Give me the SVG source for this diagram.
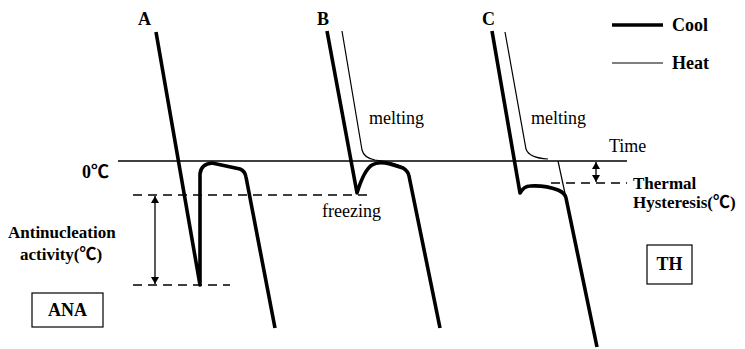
<svg xmlns="http://www.w3.org/2000/svg" width="745" height="349" viewBox="0 0 745 349">
<style>
.cool{fill:none;stroke:#000;stroke-width:3.6;stroke-linejoin:round;stroke-linecap:butt}
.heat{fill:none;stroke:#000;stroke-width:1.2}
.axis{fill:none;stroke:#000;stroke-width:1.3}
.dash{fill:none;stroke:#000;stroke-width:1.3;stroke-dasharray:9 6}
.arr{fill:none;stroke:#000;stroke-width:1.3}
.box{fill:#fff;stroke:#000;stroke-width:1.2}
text{font-family:'Liberation Serif','Times New Roman','DejaVu Serif',serif;font-size:18px;fill:#000}
.b{font-weight:bold}
.m{font-size:17px}
.deg{font-family:'Noto Sans CJK SC',sans-serif;font-weight:bold}
</style>
<defs>
<marker id="ah" viewBox="0 0 10 10" refX="10" refY="5" markerWidth="7" markerHeight="8" markerUnits="userSpaceOnUse" orient="auto-start-reverse" preserveAspectRatio="none">
<path d="M0,0 L10,5 L0,10 Z" fill="#000"/>
</marker>
</defs>
<g id="axes">
<path class="axis" d="M118,161 L627,161"/>
<path class="dash" d="M133,195 L372,195"/>
<path class="dash" d="M133,285 L230,285"/>
<path class="dash" d="M551,183 L627,183"/>
</g>
<g id="curve-A">
<text class="b" x="138" y="25">A</text>
<path class="cool" d="M156,32 L200,285 L200,174 Q201,164 212,163 L240,169 Q245,171 246,177 L275,328"/>
</g>
<g id="curve-B">
<text class="b" x="317" y="25">B</text>
<path class="heat" d="M342,31 L362,150 Q364,158 375,160 Q395,162 405,168"/>
<path class="cool" d="M327,31 L357,193 Q364,170 372,165 Q378,161 390,164 L403,168 Q408,171 409,176 L440,328"/>
<text x="369" y="124">melting</text>
<text x="322" y="217">freezing</text>
</g>
<g id="curve-C">
<text class="b" x="482" y="25">C</text>
<path class="heat" d="M505,32 L526,149 Q529,158 548,159"/>
<path class="heat" d="M558,161 L566,198"/>
<path class="cool" d="M492,31 L520,193 Q524,186 530,186 Q545,185 558,190 Q565,193 566,198 L597,347"/>
<text x="531" y="124">melting</text>
<text x="609" y="152">Time</text>
</g>
<g id="zero-label">
<text class="b" x="82" y="178">0<tspan class="deg">℃</tspan></text>
</g>
<g id="ana-label">
<text class="b m" x="8" y="238">Antinucleation</text>
<text class="b m" x="20" y="260">activity(<tspan class="deg">℃</tspan>)</text>
</g>
<g id="th-label">
<text class="b m" x="633" y="189">Thermal</text>
<text class="b m" x="633" y="208">Hysteresis(<tspan class="deg">℃</tspan>)</text>
</g>
<g id="ANA">
<rect class="box" x="32" y="293" width="71" height="34"/>
<text class="b" x="67.5" y="316" text-anchor="middle">ANA</text>
</g>
<g id="TH">
<rect class="box" x="647" y="245" width="45" height="39"/>
<text class="b" x="669.5" y="270" text-anchor="middle">TH</text>
</g>
<g id="legend">
<path class="cool" d="M612,25 L663,25"/>
<text class="b" x="672" y="31">Cool</text>
<path class="heat" d="M612,63 L663,63"/>
<text class="b" x="672" y="69">Heat</text>
</g>
<g id="connectors">
<path class="arr" d="M155,196 L155,284" marker-start="url(#ah)" marker-end="url(#ah)"/>
<path class="arr" d="M596,162 L596,182" marker-start="url(#ah)" marker-end="url(#ah)"/>
</g>
</svg>
